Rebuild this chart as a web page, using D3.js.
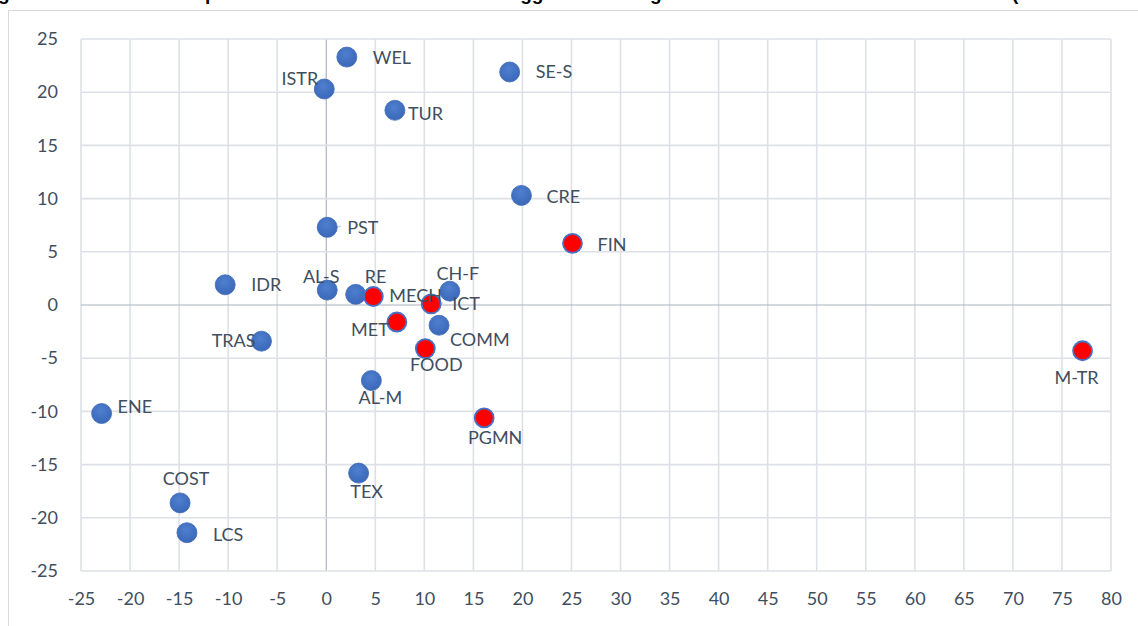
<!DOCTYPE html>
<html>
<head>
<meta charset="utf-8">
<script src="https://cdn.jsdelivr.net/npm/d3@7"></script>
<style>
  html, body { margin: 0; padding: 0; background: #fff; }
  svg { display: block; font-family: Lato, "Open Sans", sans-serif; }
</style>
</head>
<body>
<script>
'use strict';

var sectors = ['WEL', 'ISTR', 'TUR', 'SE-S', 'CRE', 'FIN', 'PST', 'IDR', 'AL-S', 'RE',
  'MECH', 'CH-F', 'ICT', 'MET', 'COMM', 'FOOD', 'TRAS', 'AL-M', 'ENE', 'PGMN',
  'TEX', 'COST', 'LCS', 'M-TR'];
var xValues = [2.1, -0.2, 7.0, 18.7, 19.9, 25.1, 0.1, -10.3, 0.1, 3.0,
  4.8, 12.6, 10.7, 7.2, 11.5, 10.1, -6.6, 4.6, -22.9, 16.1,
  3.3, -14.9, -14.2, 77.1];
var yValues = [23.3, 20.3, 18.3, 21.9, 10.3, 5.8, 7.3, 1.9, 1.4, 1.0,
  0.8, 1.3, 0.1, -1.6, -1.9, -4.1, -3.4, -7.1, -10.2, -10.6,
  -15.8, -18.6, -21.4, -4.3];
var highlighted = ['FIN', 'MECH', 'ICT', 'MET', 'FOOD', 'PGMN', 'M-TR'];

var xTicks = d3.range(-25, 81, 5);
var yTicks = d3.range(-25, 26, 5);

// where each label sits relative to its marker (px), and its anchor
var labelPos = {
  'WEL': [26, 0, 'start'], 'ISTR': [-6, -10, 'end'], 'TUR': [13, 3, 'start'],
  'SE-S': [26, 0, 'start'], 'CRE': [25, 1, 'start'], 'FIN': [25, 1, 'start'],
  'PST': [20, 0, 'start'], 'IDR': [26, 0, 'start'], 'AL-S': [-6, -14, 'middle'],
  'RE': [20, -18, 'middle'], 'MECH': [16, -1, 'start'], 'CH-F': [8, -18, 'middle'],
  'ICT': [21, 0, 'start'], 'MET': [-8, 7, 'end'], 'COMM': [11, 14, 'start'],
  'FOOD': [11, 16, 'middle'], 'TRAS': [-6, -1, 'end'], 'AL-M': [9, 17, 'middle'],
  'ENE': [16, -7, 'start'], 'PGMN': [11, 20, 'middle'], 'TEX': [8, 18, 'middle'],
  'COST': [6, -24, 'middle'], 'LCS': [26, 2, 'start'], 'M-TR': [-6, 27, 'middle']
};
// labels that Excel joined to the marker with a short leader line
var leaders = { 'PST': [5, 14], 'ICT': [6, 12] };

var w = 1138;
var h = 626;
var textColor = '#404e5e';
var gridColor = '#dde1e7';

var svg = d3.select('body')
  .append('svg')
  .attr('width', w)
  .attr('height', h);

// title of the figure, cropped at the top edge so only descenders show
var titleBits = [[-2, 'gure 4 – Sector'], [205, 'performance versus'],
  [498, 'suggests a strong'], [1012, '(base 2010 = 100)']];
svg.selectAll('.title')
  .data(titleBits)
  .enter()
  .append('text')
  .attr('class', 'title')
  .attr('x', function(d) { return d[0]; })
  .attr('y', 0)
  .attr('font-family', 'Liberation Sans, Arial, sans-serif')
  .attr('font-weight', 'bold')
  .attr('font-size', 19)
  .attr('fill', '#000')
  .text(function(d) { return d[1]; });

// chart frame (only left and top edges are inside the picture)
svg.append('rect')
  .attr('x', 8.5)
  .attr('y', 10.5)
  .attr('width', w + 20)
  .attr('height', h + 20)
  .attr('fill', 'none')
  .attr('stroke', '#d9d9d9');

var x = d3.scaleLinear().domain([-25, 80]).range([81, 1111]);
var y = d3.scaleLinear().domain([-25, 25]).range([571, 39]);

// grid lines
svg.append('g')
  .selectAll('line')
  .data(xTicks)
  .enter()
  .append('line')
  .attr('x1', function(d) { return x(d); })
  .attr('x2', function(d) { return x(d); })
  .attr('y1', y(25))
  .attr('y2', y(-25))
  .attr('stroke', function(d) { return d === 0 ? '#aab3c0' : gridColor; })
  .attr('stroke-width', function(d) { return d === 0 ? 1.2 : 1.6; });

svg.append('g')
  .selectAll('line')
  .data(yTicks)
  .enter()
  .append('line')
  .attr('x1', x(-25))
  .attr('x2', x(80))
  .attr('y1', function(d) { return y(d); })
  .attr('y2', function(d) { return y(d); })
  .attr('stroke', function(d) { return d === 0 ? '#aab3c0' : gridColor; })
  .attr('stroke-width', function(d) { return d === 0 ? 1.2 : 1.6; });

// axes, only used for their tick labels (plain hyphen for negatives, like Excel)
var plain = function(d) { return String(d); };
var xAxis = svg.append('g')
  .attr('transform', 'translate(0,' + 590 + ')')
  .call(d3.axisBottom(x).tickValues(xTicks).tickFormat(plain).tickSize(0).tickPadding(0));
var yAxis = svg.append('g')
  .attr('transform', 'translate(' + 62 + ',0)')
  .call(d3.axisLeft(y).tickValues(yTicks).tickFormat(plain).tickSize(0).tickPadding(4));

[xAxis, yAxis].forEach(function(ax) {
  ax.select('.domain').remove();
  ax.selectAll('text')
    .attr('font-family', 'Lato, "Open Sans", sans-serif')
    .attr('font-size', 18)
    .attr('fill', textColor);
});
xAxis.selectAll('text').attr('dy', '0.85em');

var points = sectors.map(function(s, i) {
  return { name: s, x: xValues[i], y: yValues[i], red: highlighted.indexOf(s) >= 0 };
});

// blue marker shading
var defs = svg.append('defs');
var grad = defs.append('radialGradient')
  .attr('id', 'blueShade')
  .attr('cx', '45%').attr('cy', '35%').attr('r', '65%');
grad.append('stop').attr('offset', '0%').attr('stop-color', '#4f7fd0');
grad.append('stop').attr('offset', '100%').attr('stop-color', '#3b68b8');

// leader lines
svg.selectAll('.leader')
  .data(points.filter(function(d) { return leaders[d.name]; }))
  .enter()
  .append('line')
  .attr('class', 'leader')
  .attr('x1', function(d) { return x(d.x) + leaders[d.name][0]; })
  .attr('x2', function(d) { return x(d.x) + leaders[d.name][1]; })
  .attr('y1', function(d) { return y(d.y); })
  .attr('y2', function(d) { return y(d.y) - 1; })
  .attr('stroke', '#d0d5dc')
  .attr('stroke-width', 1.5);

// blue series first, red series on top
svg.selectAll('.dot')
  .data(points.filter(function(d) { return !d.red; }).concat(points.filter(function(d) { return d.red; })))
  .enter()
  .append('circle')
  .attr('class', 'dot')
  .attr('cx', function(d) { return x(d.x); })
  .attr('cy', function(d) { return y(d.y); })
  .attr('r', function(d) { return d.red ? 9.5 : 10; })
  .attr('fill', function(d) { return d.red ? '#ff0000' : 'url(#blueShade)'; })
  .attr('stroke', function(d) { return d.red ? '#4472c4' : '#3d69b6'; })
  .attr('stroke-width', function(d) { return d.red ? 1.8 : 0.8; });

// data labels
svg.selectAll('.name')
  .data(points)
  .enter()
  .append('text')
  .attr('class', 'name')
  .text(function(d) { return d.name; })
  .attr('x', function(d) { return x(d.x) + labelPos[d.name][0]; })
  .attr('y', function(d) { return y(d.y) + labelPos[d.name][1]; })
  .attr('dy', '0.36em')
  .attr('text-anchor', function(d) { return labelPos[d.name][2]; })
  .attr('font-size', 18)
  .attr('fill', textColor);
</script>
</body>
</html>
